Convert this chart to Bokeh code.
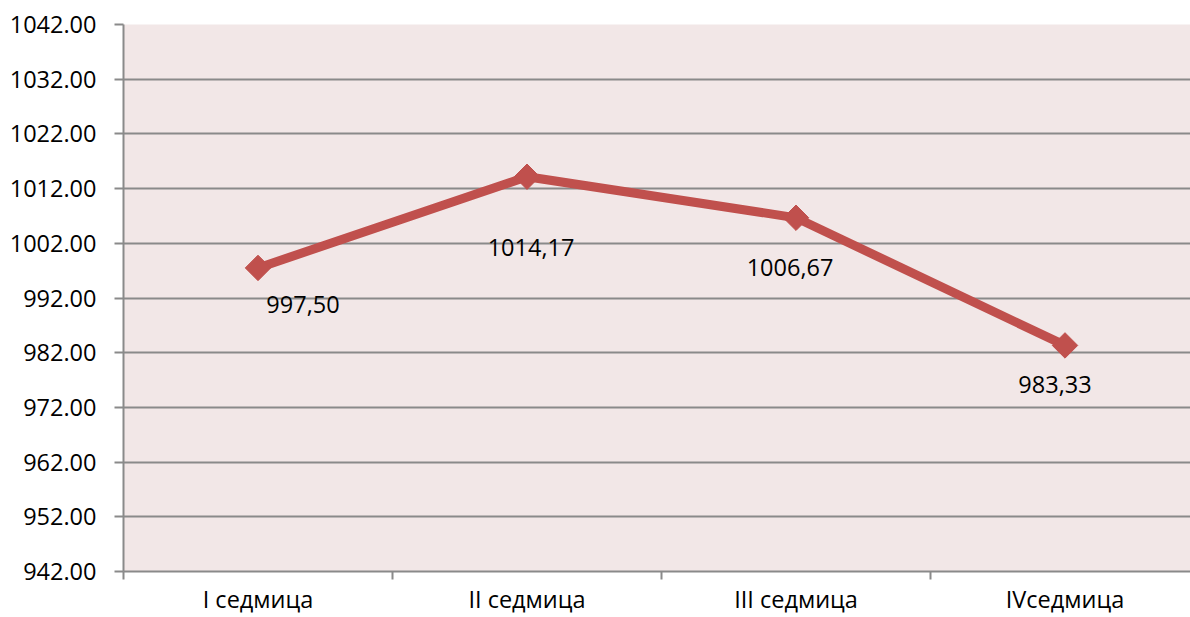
import math
from bokeh.plotting import figure
from bokeh.models import ColumnDataSource, FixedTicker, Range1d, NumeralTickFormatter
from bokeh.core.properties import value
from bokeh.embed import file_html
from bokeh.resources import INLINE

# ---- data ----
categories = ["I седмица", "II седмица", "III седмица", "IVседмица"]
values = [997.50, 1014.17, 1006.67, 983.33]
y_ticks = [942, 952, 962, 972, 982, 992, 1002, 1012, 1022, 1032, 1042]

# label offsets (pixels) - style only
label_dx = [45, 4, -6, -10]
label_dy = [37, 71, 50, 39]

FONT = "Open Sans"
RED = "#C0504D"
GRID = "#8a8a8a"

xs = [i + 0.5 for i in range(len(categories))]
labels = [f"{v:.2f}".replace(".", ",") for v in values]

src = ColumnDataSource(dict(x=xs, y=values, lab=labels, dx=label_dx, dy=label_dy))

# the original plot area runs slightly past the right edge of the picture
visible_fraction = 1067 / 1076

p = figure(width=1190, height=617, output_backend="svg", toolbar_location=None,
           x_range=Range1d(0, len(categories) * visible_fraction),
           y_range=Range1d(y_ticks[0], y_ticks[-1]),
           min_border_left=123, min_border_right=0, min_border_top=24, min_border_bottom=45)

p.background_fill_color = "#F2E7E7"
p.border_fill_color = "white"
p.outline_line_color = None

# y axis
p.yaxis.ticker = FixedTicker(ticks=y_ticks)
p.yaxis.formatter = NumeralTickFormatter(format="0.00")
p.yaxis.axis_line_color = GRID
p.yaxis.axis_line_width = 2
p.yaxis.major_tick_line_color = GRID
p.yaxis.major_tick_line_width = 2
p.yaxis.major_tick_out = 9
p.yaxis.major_tick_in = 0
p.yaxis.minor_tick_line_color = None
p.yaxis.major_label_standoff = 18
p.yaxis.major_label_text_font = FONT
p.yaxis.major_label_text_font_size = "23.5px"
p.yaxis.major_label_text_color = "black"

# x axis: labels at category centres, ticks at boundaries
p.xaxis.ticker = FixedTicker(ticks=xs, minor_ticks=list(range(len(categories) + 1)))
p.xaxis.major_label_overrides = {x: c for x, c in zip(xs, categories)}
p.xaxis.axis_line_color = GRID
p.xaxis.axis_line_width = 2
p.xaxis.major_tick_line_color = None
p.xaxis.major_tick_out = 0
p.xaxis.major_tick_in = 0
p.xaxis.minor_tick_line_color = GRID
p.xaxis.minor_tick_line_width = 2
p.xaxis.minor_tick_out = 8
p.xaxis.minor_tick_in = 0
p.xaxis.major_label_standoff = 3
p.xaxis.major_label_text_font = FONT
p.xaxis.major_label_text_font_size = "23.5px"
p.xaxis.major_label_text_color = "black"

p.xgrid.grid_line_color = None
p.ygrid.grid_line_color = GRID
p.ygrid.grid_line_width = 2

p.line("x", "y", source=src, line_color=RED, line_width=9, line_join="miter")
p.scatter("x", "y", source=src, marker="square", angle=math.pi / 4, size=18,
          fill_color=RED, line_color=RED)
p.text("x", "y", text="lab", source=src, x_offset="dx", y_offset="dy",
       text_font=value(FONT), text_font_size="23.5px", text_color="black",
       text_align="center", text_baseline="middle")

open("out.html", "w").write(file_html(p, INLINE))
